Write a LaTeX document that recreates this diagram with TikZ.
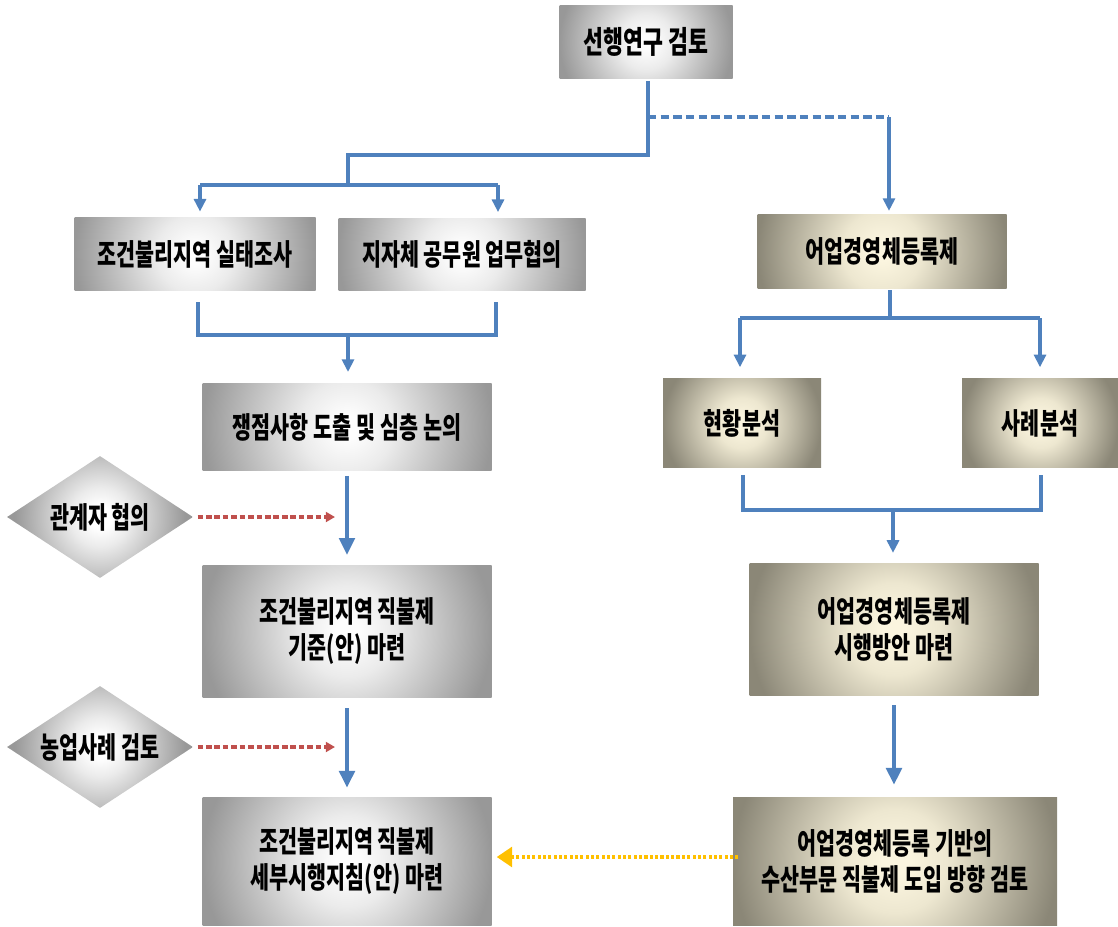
\documentclass[tikz,border=0pt]{standalone}
\usepackage{fontspec}
\newfontfamily\kr{Noto Sans CJK KR}[FakeStretch=0.7]
\usetikzlibrary{shapes.geometric,arrows.meta,calc}
\definecolor{lblue}{HTML}{4F81BD}
\definecolor{lred}{HTML}{C0504D}
\definecolor{lyel}{HTML}{FFC000}
\definecolor{gedge}{HTML}{989898}
\definecolor{gmid}{HTML}{EBEBEB}
\definecolor{gcent}{HTML}{FDFDFD}
\definecolor{bedge}{HTML}{8B8777}
\definecolor{bmid}{HTML}{EDE7D0}
\definecolor{bcent}{HTML}{FBF5DF}
\pgfdeclareradialshading{grayglow}{\pgfpoint{0bp}{0bp}}{color(0bp)=(gcent); color(2bp)=(gcent); color(8bp)=(gmid); color(25bp)=(gedge); color(50bp)=(gedge)}
\pgfdeclareradialshading{beigeglow}{\pgfpoint{0bp}{0bp}}{color(0bp)=(bcent); color(2bp)=(bcent); color(8bp)=(bmid); color(25bp)=(bedge); color(50bp)=(bedge)}
\pgfdeclareradialshading{diaglow}{\pgfpoint{0bp}{0bp}}{color(0bp)=(white); color(3bp)=(white); color(8bp)=(gmid); color(23bp)=(gedge); color(50bp)=(gedge)}
\begin{document}
\begin{tikzpicture}[x=0.025cm,y=-0.025cm,
  txt/.style={font=\kr\bfseries\fontsize{21}{25.6}\selectfont, align=center, text=black, inner sep=0pt},
  sz/.style 2 args={minimum width=#1*0.025cm, minimum height=#2*0.025cm},
  glow/.style={path picture={
      \shade[shading=#1] let \p1=(path picture bounding box.south west), \p2=(path picture bounding box.north east) in
        (\x1, {((\y1+\y2)/2-(\x2-\x1)/2)*1pt}) rectangle (\x2, {((\y1+\y2)/2+(\x2-\x1)/2)*1pt});}},
  gbox/.style={txt, rectangle, glow=grayglow},
  bbox/.style={txt, rectangle, glow=beigeglow},
  dia/.style={txt, diamond, aspect=1.5, glow=diaglow, minimum width=4.65cm, minimum height=3.05cm},
  line/.style={draw=lblue, line width=2.8pt},
  sarr/.style={line, -{Triangle[length=9pt,width=8.5pt]}},
  larr/.style={line, -{Triangle[length=12pt,width=11pt]}},
  rarr/.style={draw=lred, line width=2.4pt, dash pattern=on 4pt off 2pt, -{Triangle[length=6.5pt,width=7pt]}},
  yarr/.style={draw=lyel, line width=3pt, dash pattern=on 2.2pt off 1.6pt, -{Triangle[length=11pt,width=14pt]}}
]
\useasboundingbox (0,0) rectangle (1118,927);

\node[gbox, sz={173}{73}, font=\kr\bfseries\fontsize{22}{24}\selectfont] (top) at (646,42) {선행연구 검토};
\node[gbox, sz={241}{73}] (a1) at (195,254) {조건불리지역 실태조사};
\node[gbox, sz={247}{72}] (a2) at (462,254) {지자체 공무원 업무협의};
\node[bbox, sz={249}{74}] (b1) at (882,251) {어업경영체등록제};
\node[gbox, sz={289}{87}] (a3) at (347,427) {쟁점사항 도출 및 심층 논의};
\node[dia] (d1) at (100,517) {관계자 협의};
\node[gbox, sz={289}{132}] (a4) at (347,631) {조건불리지역 직불제\\기준(안) 마련};
\node[dia] (d2) at (100,747) {농업사례 검토};
\node[gbox, sz={289}{128}] (a5) at (347,861) {조건불리지역 직불제\\세부시행지침(안) 마련};
\node[bbox, sz={158}{89}] (b2) at (742,423) {현황분석};
\node[bbox, sz={156}{89}] (b3) at (1040,423) {사례분석};
\node[bbox, sz={289}{132}] (b4) at (894,629) {어업경영체등록제\\시행방안 마련};
\node[bbox, sz={324}{128}] (b5) at (895,861) {어업경영체등록 기반의\\수산부문 직불제 도입 방향 검토};

% left upper tree
\coordinate (j1) at (648,155);
\coordinate (j2) at (348,155);
\coordinate (j3) at (348,185);
\coordinate (j4) at (200,185);
\coordinate (j5) at (498,185);
\draw[line, shorten <=1.5pt] (top.south -| j1) -- (j1) -- (j2) -- (j3);
\draw[line] (j4) -- (j5);
\draw[sarr, shorten >=4pt] (j4) -- (a1.north -| j4);
\draw[sarr, shorten >=4pt] (j5) -- (a2.north -| j5);

% dashed branch to the right
\coordinate (k1) at (648,117);
\coordinate (k2) at (889,117);
\draw[line, dash pattern=on 6pt off 3pt] (k1) -- (k2);
\draw[sarr, shorten >=2pt] (k2) -- (b1.north -| k2);

% merge to a3
\coordinate (m1) at (198,335);
\coordinate (m2) at (496,335);
\coordinate (m3) at (348,335);
\draw[line, shorten <=8pt, shorten >=8pt] (a1.south -| m1) -- (m1) -- (m2) -- (a2.south -| m2);
\draw[sarr, shorten >=8pt] (m3) -- (a3.north -| m3);

% main left chain
\draw[larr, shorten <=3.6pt, shorten >=7pt] (a3.south) -- (a4.north);
\draw[larr, shorten <=7.8pt, shorten >=6.4pt] (a4.south) -- (a5.north);

% diamonds
\coordinate (c1) at (335,517);
\coordinate (c2) at (335,747);
\draw[rarr, shorten <=3pt] (d1.east) -- (c1);
\draw[rarr, shorten <=3pt] (d2.east) -- (c2);

% right tree
\coordinate (r1) at (890,318);
\coordinate (r2) at (740,318);
\coordinate (r3) at (1040,318);
\draw[line, shorten <=1.5pt] (b1.south -| r1) -- (r1);
\draw[line] (r2) -- (r3);
\draw[sarr, shorten >=7.8pt] (r2) -- (b2.north -| r2);
\draw[sarr, shorten >=7.8pt] (r3) -- (b3.north -| r3);

\coordinate (s1) at (743,510);
\coordinate (s2) at (1041,510);
\coordinate (s3) at (893,510);
\draw[line, shorten <=5pt, shorten >=5pt] (b2.south -| s1) -- (s1) -- (s2) -- (b3.south -| s2);
\draw[sarr, shorten >=7pt] (s3) -- (b4.north -| s3);

\draw[larr, shorten <=7pt, shorten >=8.5pt] (b4.south) -- (b5.north -| b4.south);

% yellow dotted
\coordinate (y1) at (0,857);
\draw[yarr, shorten <=-4pt, shorten >=3.5pt] (b5.west |- y1) -- (a5.east |- y1);
\end{tikzpicture}
\end{document}
